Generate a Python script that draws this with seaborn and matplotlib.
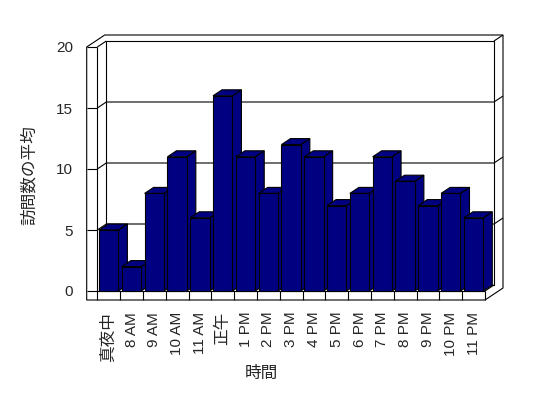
import matplotlib
matplotlib.use('Agg')
import matplotlib.pyplot as plt
from matplotlib.patches import Polygon
import seaborn as sns
import pandas as pd

# ---- data ----
hours = ['真夜中', '8 AM', '9 AM', '10 AM', '11 AM', '正午', '1 PM', '2 PM', '3 PM',
         '4 PM', '5 PM', '6 PM', '7 PM', '8 PM', '9 PM', '10 PM', '11 PM']
visits = [5, 2, 8, 11, 6, 16, 11, 8, 12, 11, 7, 8, 11, 9, 7, 8, 6]
y_ticks = [0, 5, 10, 15, 20]
x_title = '時間'
y_title = '訪問数の平均'

sns.set_style('white')
plt.rcParams['font.family'] = ['Liberation Sans', 'Noto Sans CJK JP']

W, H = 548, 398
fig = plt.figure(figsize=(W / 100, H / 100), dpi=100)
# front plane of the 3-D plot area (pixels)
L, R, T, B = 97.3, 485.0, 47.0, 291.0
ax = fig.add_axes([L / W, (H - B) / H, (R - L) / W, (B - T) / H])
ax.patch.set_visible(False)

df = pd.DataFrame({'hour': hours, 'visits': visits})
sns.barplot(data=df, x='hour', y='visits', order=hours, color='#000080',
            saturation=1, width=0.85, edgecolor='black', linewidth=0.8,
            errorbar=None, ax=ax)
bars = list(ax.patches)

n = len(hours)
ymax = y_ticks[-1]
x0, x1 = -0.5, n - 0.5
ax.set_xlim(x0, x1)
ax.set_ylim(0, ymax)
for s in ax.spines.values():
    s.set_visible(False)

pxx = (R - L) / n
pxy = (B - T) / ymax
DX, DY = 9 / pxx, 6 / pxy          # depth offset
LW, FT = 10.6 / pxx, 9 / pxy       # wall / floor thickness

lk = dict(color='black', lw=0.8, clip_on=False, solid_capstyle='butt')

# outer shell of walls + floor
shell = Polygon([(x0 - LW, -FT), (x0 - LW, ymax), (x0 - LW + 2 * DX, ymax + 2 * DY),
                 (x1 + 2 * DX, ymax + 2 * DY), (x1 + 2 * DX, -FT + 2 * DY), (x1, -FT)],
                closed=True, facecolor='white', edgecolor='black', lw=0.8,
                clip_on=False, zorder=0.5)
ax.add_patch(shell)
ax.plot([x0, x0], [-FT, ymax], zorder=1, **lk)
ax.plot([x0, x0 + DX], [ymax, ymax + DY], zorder=1, **lk)
ax.plot([x0 + DX, x0 + DX, x1 + DX, x1 + DX, x0 + DX],
        [DY, ymax + DY, ymax + DY, DY, DY], zorder=1, **lk)
ax.plot([x1 + DX, x1 + 2 * DX], [ymax + DY, ymax + 2 * DY], zorder=1, **lk)
ax.plot([x0, x1], [0, 0], zorder=1, **lk)
ax.plot([x1, x1], [0, -FT], zorder=1, **lk)
ax.plot([x1, x1 + DX], [0, DY], zorder=1, **lk)
for yv in y_ticks[1:-1]:
    ax.plot([x0, x0 + DX, x1 + DX, x1 + 2 * DX], [yv, yv + DY, yv + DY, yv + 2 * DY],
            zorder=1, **lk)
for yv in y_ticks:
    ax.plot([x0 - LW, x0], [yv, yv], zorder=1, **lk)
for k in range(1, n):
    ax.plot([k - 0.5, k - 0.5], [0, -FT], zorder=1, **lk)

# 3-D bar tops and sides
for i, p in enumerate(bars):
    x, w, h = p.get_x(), p.get_width(), p.get_height()
    z = 3 + i
    p.set_zorder(z + 0.5)
    p.set_clip_on(False)
    side = Polygon([(x + w, 0), (x + w, h), (x + w + DX, h + DY), (x + w + DX, DY)],
                   closed=True, facecolor='#000080', edgecolor='black', lw=0.8,
                   clip_on=False, zorder=z)
    top = Polygon([(x, h), (x + DX, h + DY), (x + w + DX, h + DY), (x + w, h)],
                  closed=True, facecolor='#000080', edgecolor='black', lw=0.8,
                  clip_on=False, zorder=z)
    ax.add_patch(side)
    ax.add_patch(top)

ax.set_yticks(y_ticks)
ax.set_yticklabels([str(v) for v in y_ticks], fontsize=11)
ax.set_xticks(range(n))
ax.set_xticklabels(hours, rotation=90, ha='center', va='top')
for t in ax.get_xticklabels():
    t.set_fontsize(12 if not t.get_text().isascii() else 11)
ax.tick_params(axis='x', length=0, pad=15)
ax.tick_params(axis='y', length=0, pad=17.5)

ax.set_ylabel(y_title, fontsize=12)
ax.yaxis.set_label_coords((37 - L) / (R - L), (B - 175) / (B - T))
ax.set_xlabel(x_title, fontsize=12)
ax.xaxis.set_label_coords((261.5 - L) / (R - L), (B - 366) / (B - T))

fig.savefig('out.png', dpi=100)
